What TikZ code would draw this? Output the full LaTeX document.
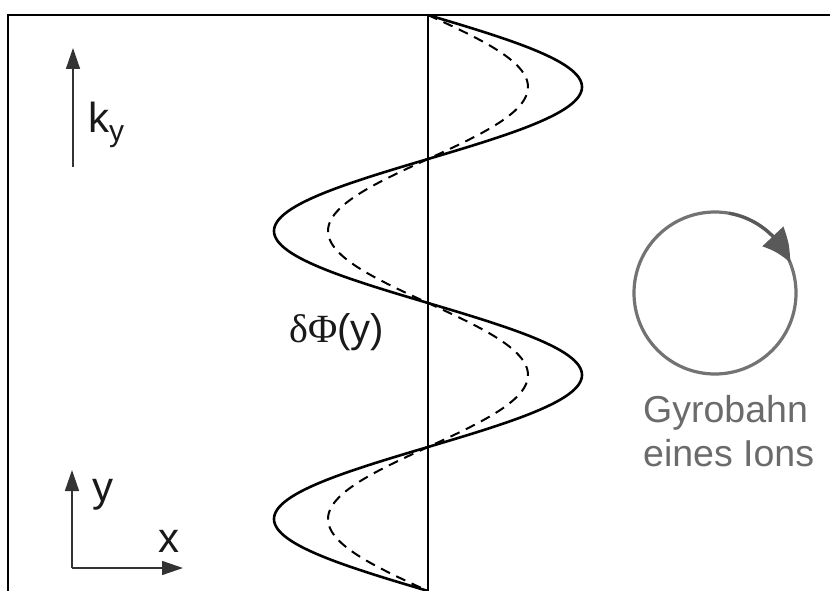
\documentclass[tikz,border=0pt]{standalone}
\usepackage{fontspec}
\setmainfont{Liberation Sans}
\newfontfamily\serifsym{Liberation Serif}
\usetikzlibrary{arrows.meta,bending}
\begin{document}
\begin{tikzpicture}[x=1bp,y=-1bp,
  axis/.style={line width=1.5bp, draw=black!80, -{Triangle[length=21bp,width=14bp]}},
  frameline/.style={line width=2.2bp},
  midline/.style={line width=1.6bp},
  wave/.style={line width=2.6bp},
  wavedash/.style={line width=2bp, dash pattern=on 10bp off 7bp},
  lab/.style={inner sep=0pt, anchor=base west, font=\fontsize{42bp}{48bp}\selectfont, text=black!90},
  gyro/.style={draw=black!55, line width=3.2bp},
  gyrotext/.style={inner sep=0pt, anchor=base west, font=\fontsize{37.5bp}{44bp}\selectfont, text=black!58}]
\useasboundingbox (0,0) rectangle (830,591);
\fill[white] (0,0) rectangle (830,591);
% frame
\coordinate (fbl) at (8,591);
\coordinate (ftl) at (8,15);
\coordinate (ftr) at (830,15);
\draw[frameline] (fbl) -- (ftl) -- (ftr);
% middle line
\coordinate (mtop) at (428,15);
\coordinate (mbot) at (428,591);
\draw[midline] (mtop) -- (mbot);
% waves
\draw[wave] plot[domain=15:591, samples=241, smooth] ({428+154*sin(1.25*(\x-15))}, \x);
\draw[wavedash] plot[domain=15:591, samples=241, smooth] ({428+100*sin(1.25*(\x-15))}, \x);
% k_y arrow
\coordinate (kyfoot) at (73,167);
\coordinate (kytip) at (73,48);
\draw[axis] (kyfoot) -- (kytip);
\node[lab] (ky) at (88,133) {k\raisebox{-9bp}{\fontsize{30bp}{30bp}\selectfont y}};
% axes
\coordinate (org) at (72,568);
\coordinate (ytip) at (72,470);
\coordinate (xtip) at (183,568);
\draw[axis] (org) -- (ytip);
\draw[axis] (org) -- (xtip);
\node[lab] (ylab) at (92,501) {y};
\node[lab] (xlab) at (158,552) {x};
% delta Phi
\node[lab, font=\fontsize{40bp}{46bp}\selectfont] (phi) at (289,342) {{\serifsym δΦ}(y)};
% gyro orbit
\coordinate (gc) at (715,293);
\draw[gyro] (gc) circle[radius=81];
\draw[gyro, draw=black!65, -{Triangle[length=32bp,width=28bp,bend]}] ([shift={(-80:81)}]gc) arc[start angle=-80, end angle=-22, radius=81];
\node[gyrotext] (g1) at (643,422) {Gyrobahn};
\node[gyrotext] (g2) at (643,466) {eines Ions};
\end{tikzpicture}
\end{document}
